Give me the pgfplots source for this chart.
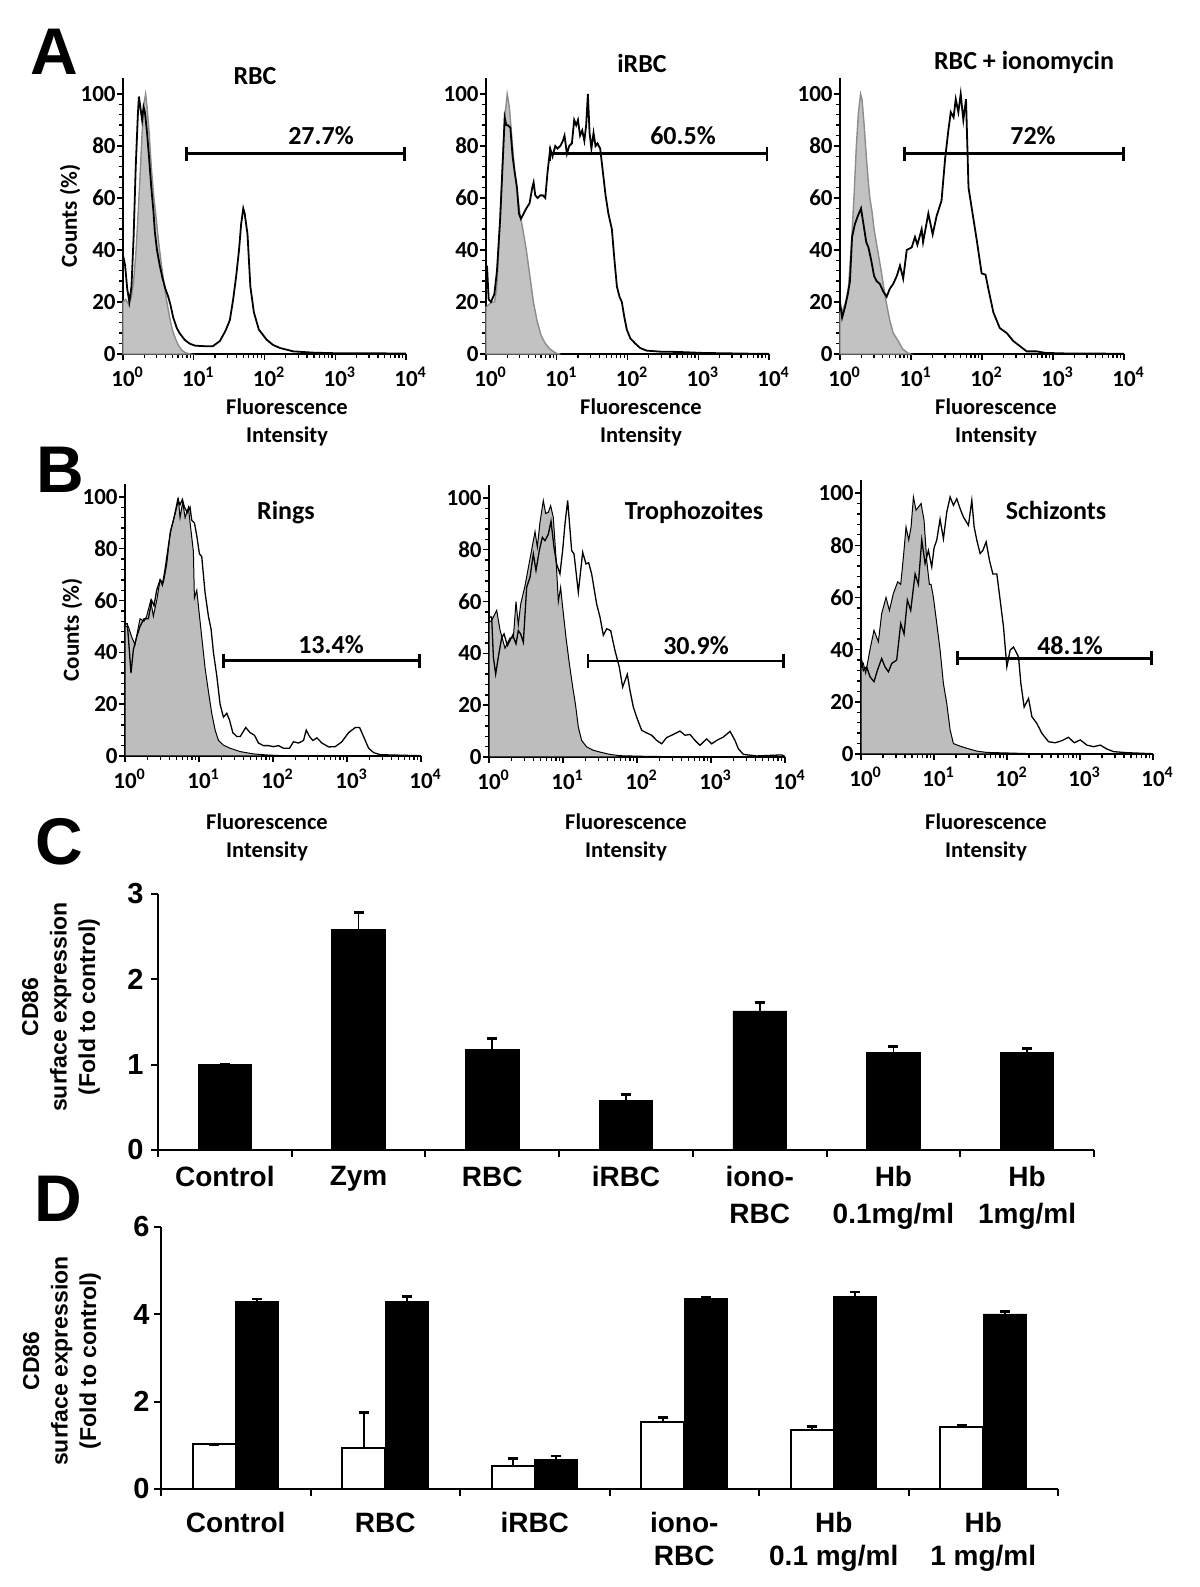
\documentclass[border=0pt]{standalone}
\usepackage{fontspec}
\setmainfont{Carlito}
\newfontfamily\arialfont{Liberation Sans}
\usepackage{pgfplots}
\pgfplotsset{compat=1.18}
\usetikzlibrary{arrows.meta}

% histograms: x is log10 of the fluorescence intensity (decades), y is counts in % of max
\pgfplotsset{
  histo/.style={
    anchor=south west, scale only axis, clip=false,
    xmin=0, xmax=4, ymin=0,
    axis lines=left, axis line style={-, line width=1pt},
    xtick={0,1,2,3,4},
    xticklabels={10\rlap{\textsuperscript{0}},10\rlap{\textsuperscript{1}},10\rlap{\textsuperscript{2}},10\rlap{\textsuperscript{3}},10\rlap{\textsuperscript{4}}},
    minor xtick={0.301,0.477,0.602,0.699,0.778,0.845,0.903,0.954,
      1.301,1.477,1.602,1.699,1.778,1.845,1.903,1.954,
      2.301,2.477,2.602,2.699,2.778,2.845,2.903,2.954,
      3.301,3.477,3.602,3.699,3.778,3.845,3.903,3.954},
    ytick={0,20,40,60,80,100}, yticklabels={0,20,40,60,80,100},
    minor y tick num=4,
    tick align=outside, major tick length=3pt, minor tick length=1.8pt,
    tick style={black, line width=0.7pt},
    xticklabel style={font=\fontsize{11.5}{12}\selectfont\bfseries},
    yticklabel style={font=\fontsize{11.5}{12}\selectfont\bfseries, inner xsep=0.5pt},
  },
  ctrlA/.style={fill=black!24, draw=black!45, line width=0.7pt},
  ctrlB/.style={fill=black!26, draw=black, line width=0.5pt},
  sampA/.style={black, line width=0.9pt},
  sampB/.style={black, line width=0.65pt},
  gate/.style={black, line width=1.3pt, arrows={Bar[width=7pt]-Bar[width=7pt]}},
  bars/.style={
    anchor=south west, scale only axis,
    axis lines=left, axis line style={-, line width=1pt},
    major tick length=0pt, minor tick length=3.5pt, tick align=outside,
    minor tick style={black, line width=1pt},
    ybar,
  },
  errs/.style={error bars/.cd, y dir=plus, y explicit, error mark=|,
    error bar style={line width=0.8pt},
    error mark options={line width=1.3pt, mark size=2.5pt}},
}

\begin{document}
\begin{tikzpicture}
\path[use as bounding box] (0,0) rectangle (600pt,793.5pt);

% ---------- A ----------
\begin{axis}[histo, at={(61.5pt,616.5pt)}, width=141.5pt, height=137.8pt, ymax=106]
\addplot[ctrlA] coordinates {(0,20) (0.04,21) (0.08,19) (0.12,22) (0.15,28) (0.18,38) (0.21,52) (0.24,68) (0.27,85) (0.30,97) (0.32,100) (0.34,95) (0.37,85) (0.40,72) (0.43,62) (0.45,57) (0.47,52) (0.50,44) (0.54,35) (0.58,27) (0.62,20) (0.66,14) (0.70,9) (0.74,6) (0.78,3.5) (0.83,1.5) (0.88,0.5) (0.95,0)} \closedcycle;
\addplot[sampA] coordinates {(0,38) (0.03,34) (0.06,25) (0.09,20) (0.12,26) (0.15,45) (0.18,72) (0.21,92) (0.225,99) (0.245,95) (0.27,90) (0.29,95) (0.31,93) (0.34,85) (0.37,75) (0.40,64) (0.43,55) (0.45,47) (0.48,40) (0.52,34) (0.56,29) (0.60,25) (0.64,22) (0.67,19) (0.71,14) (0.76,10) (0.80,8) (0.87,5.5) (0.94,4) (1.02,3.2) (1.15,3) (1.27,3) (1.37,5) (1.45,9) (1.51,13) (1.557,21) (1.60,30) (1.64,40) (1.67,50) (1.70,56) (1.72,54) (1.76,46) (1.80,26) (1.85,16) (1.92,9.4) (2.03,5.5) (2.12,3.5) (2.22,2.3) (2.41,1) (2.7,0.5) (3,0.3) (4,0.2)};
\addplot[gate] coordinates {(0.88,77) (4,77)};
\end{axis}

\begin{axis}[histo, at={(243pt,616.5pt)}, width=141.5pt, height=137.8pt, ymax=106]
\addplot[ctrlA] coordinates {(0,18) (0.04,19) (0.08,20) (0.12,20) (0.15,25) (0.18,40) (0.21,58) (0.24,78) (0.27,92) (0.30,100) (0.33,95) (0.36,85) (0.40,72) (0.44,62) (0.48,54) (0.52,48) (0.57,40) (0.62,30) (0.67,20) (0.72,13) (0.78,7) (0.84,4) (0.90,2) (0.96,0.8) (1.0,0.2) (1.05,0)} \closedcycle;
\addplot[sampA] coordinates {(0,30) (0.014,34) (0.038,21) (0.07,20) (0.118,23) (0.155,32) (0.20,52) (0.24,76) (0.264,91) (0.287,88) (0.31,88) (0.344,87) (0.376,76) (0.405,70) (0.438,64) (0.466,54) (0.494,52) (0.532,54) (0.57,56) (0.616,58) (0.654,64) (0.673,66) (0.696,61) (0.73,60) (0.767,61) (0.805,61) (0.838,60) (0.87,70) (0.908,79) (0.94,76) (0.979,80) (1.01,79) (1.05,80) (1.087,82) (1.11,84) (1.144,77) (1.176,80) (1.214,81) (1.247,90) (1.275,88) (1.30,90) (1.33,84) (1.36,86) (1.39,82) (1.416,88) (1.44,100) (1.464,85) (1.49,79) (1.52,85) (1.548,80) (1.576,81) (1.614,79) (1.652,70) (1.69,61) (1.73,54) (1.779,48) (1.816,36) (1.85,26) (1.887,22) (1.92,20) (1.953,14.5) (1.99,9.4) (2.04,6) (2.11,4) (2.18,2.3) (2.27,1.3) (2.46,0.9) (2.70,0.8) (3.07,0.4) (3.78,0.1) (4,0.1)};
\addplot[gate] coordinates {(0.885,77) (3.99,77)};
\end{axis}

\begin{axis}[histo, at={(420pt,616.5pt)}, width=142pt, height=137.8pt, ymax=106]
\addplot[ctrlA] coordinates {(0,16) (0.04,17) (0.08,20) (0.12,26) (0.16,42) (0.20,62) (0.23,80) (0.26,93) (0.29,100) (0.31,98) (0.34,88) (0.37,76) (0.40,66) (0.42,60) (0.45,55) (0.48,48) (0.53,40) (0.58,32) (0.62,25) (0.65,20) (0.70,13) (0.75,8) (0.82,5) (0.88,2) (0.95,0.5) (0.99,0)} \closedcycle;
\addplot[sampA] coordinates {(0,20) (0.03,14) (0.07,18) (0.11,23) (0.14,28) (0.17,45) (0.21,50) (0.25,53) (0.296,56) (0.33,50) (0.37,43) (0.40,41) (0.44,36) (0.48,30) (0.516,28) (0.56,27) (0.61,24) (0.657,22) (0.70,25) (0.75,27) (0.80,30) (0.845,34) (0.89,29) (0.94,40) (1.01,41) (1.056,45) (1.09,42) (1.15,48) (1.17,43) (1.244,54) (1.305,46) (1.36,53) (1.43,59) (1.48,75) (1.526,86) (1.56,93) (1.60,91) (1.63,98) (1.667,93) (1.70,100) (1.737,90) (1.775,98) (1.81,64) (1.85,57) (1.925,44) (1.995,31) (2.05,30.5) (2.09,25) (2.16,16) (2.25,10) (2.35,8) (2.44,5) (2.535,3) (2.63,1) (2.77,1) (2.9,0.4) (3.2,0.2) (4.0,0.1)};
\addplot[gate] coordinates {(0.89,77) (4.01,77)};
\end{axis}

% ---------- B ----------
\begin{axis}[histo, at={(62.5pt,415.5pt)}, width=148pt, height=136pt, ymax=105]
\addplot[ctrlB] coordinates {(0,50) (0.045,50) (0.09,46) (0.135,43) (0.203,53) (0.257,52) (0.293,54) (0.347,60) (0.383,54) (0.428,60) (0.474,68) (0.519,67) (0.564,74) (0.609,86) (0.663,92) (0.699,96) (0.722,99) (0.744,92) (0.780,98) (0.812,92) (0.857,96) (0.888,88) (0.924,79) (0.938,61) (0.970,64) (0.992,58) (1.037,46) (1.082,34) (1.127,25) (1.172,16.5) (1.218,10) (1.263,6) (1.330,4.2) (1.420,3) (1.556,1.7) (1.736,0.8) (1.916,0.4) (2.14,0.1) (2.5,0)} \closedcycle;
\addplot[sampB] coordinates {(0,51) (0.032,51) (0.081,32) (0.113,41) (0.158,46) (0.203,50) (0.257,53) (0.316,53) (0.361,60) (0.392,58) (0.428,64) (0.474,68) (0.505,66) (0.541,72) (0.586,81) (0.618,87) (0.654,91) (0.685,95) (0.713,99) (0.744,97) (0.776,99) (0.803,96) (0.843,94) (0.879,96) (0.902,91) (0.938,90) (0.970,85) (1.006,78) (1.037,77) (1.082,63) (1.127,54) (1.163,49) (1.195,40) (1.240,31) (1.285,20) (1.330,15) (1.375,16.5) (1.411,14) (1.457,9) (1.511,7.5) (1.556,7.5) (1.632,11) (1.691,9) (1.750,8) (1.804,5) (1.871,4) (1.939,4) (2.007,3.6) (2.074,4) (2.142,3) (2.223,3) (2.277,5.5) (2.345,5) (2.413,6) (2.449,10) (2.494,7.5) (2.539,6) (2.593,7) (2.661,5) (2.751,3.5) (2.841,3.6) (2.931,5.5) (3.021,9) (3.112,11) (3.170,11) (3.224,7.5) (3.292,3) (3.360,1.3) (3.450,0.5) (4.0,0.1)};
\addplot[gate] coordinates {(1.31,36.8) (4,36.8)};
\end{axis}

\begin{axis}[histo, at={(244.5pt,415pt)}, width=148pt, height=136pt, ymax=105]
\addplot[ctrlB] coordinates {(0,52) (0.036,52.7) (0.104,56.6) (0.149,49) (0.216,42) (0.284,46) (0.329,46) (0.365,60) (0.396,51) (0.428,59) (0.486,66) (0.541,74.5) (0.577,80) (0.622,87) (0.653,81) (0.689,90.6) (0.734,99) (0.766,94) (0.802,94.5) (0.833,97) (0.869,92.5) (0.905,77) (0.937,60) (0.968,65.5) (0.995,58) (1.041,46) (1.086,36) (1.131,27) (1.167,20.6) (1.207,11.6) (1.252,6.4) (1.320,3.9) (1.410,2.6) (1.500,1.9) (1.635,1) (1.770,0.5) (2.131,0.25) (2.581,0.1) (2.8,0)} \closedcycle;
\addplot[sampB] coordinates {(0,54) (0.036,54) (0.059,38.6) (0.090,32) (0.126,38.6) (0.171,46) (0.203,47.5) (0.248,43) (0.284,45) (0.320,47) (0.365,43.7) (0.396,48.8) (0.428,47.5) (0.464,44.3) (0.509,65.5) (0.554,69.4) (0.599,78.4) (0.635,72) (0.680,79.7) (0.721,84.8) (0.757,83.5) (0.802,86) (0.838,91) (0.878,81) (0.914,74.5) (0.959,70.7) (0.995,79.7) (1.027,90) (1.063,99) (1.117,79.7) (1.149,78.4) (1.207,63.6) (1.266,79) (1.311,74.5) (1.347,75) (1.387,70.7) (1.455,59) (1.5,54) (1.545,47) (1.59,49.5) (1.644,48.8) (1.703,41) (1.761,34.7) (1.806,27) (1.869,31.9) (1.905,25.7) (1.95,19.3) (1.995,15.4) (2.063,10.3) (2.131,9.3) (2.198,8.4) (2.266,6.4) (2.333,5.1) (2.401,7.5) (2.468,8.4) (2.581,10) (2.649,8.4) (2.716,8.7) (2.784,6.4) (2.851,4.5) (2.941,7) (3.009,5.1) (3.077,6.4) (3.167,7.7) (3.257,9.9) (3.324,6.4) (3.369,3.2) (3.437,1) (3.617,0.4) (3.955,0.8) (4.0,0.2)};
\addplot[gate] coordinates {(1.32,37) (4,37)};
\end{axis}

\begin{axis}[histo, at={(430.5pt,416.5pt)}, width=146pt, height=137pt, ymax=105]
\addplot[ctrlB] coordinates {(0,33) (0.032,34.7) (0.064,31) (0.123,40) (0.178,47.4) (0.238,43) (0.283,53.8) (0.343,60) (0.389,55) (0.443,61.5) (0.503,66) (0.544,65) (0.581,75.5) (0.617,87) (0.654,82) (0.686,87) (0.718,98.5) (0.754,93.4) (0.786,94.6) (0.823,96) (0.864,89.5) (0.901,74) (0.937,65) (0.960,65) (0.992,60) (1.038,50) (1.083,40) (1.129,27) (1.175,19.4) (1.221,9.2) (1.266,4) (1.358,3) (1.449,2.2) (1.586,1.1) (1.723,0.6) (2.0,0.4) (2.36,0.1) (2.6,0)} \closedcycle;
\addplot[sampB] coordinates {(0,36) (0.009,36) (0.032,32) (0.078,33.4) (0.123,29.6) (0.178,27.7) (0.224,32) (0.283,36.6) (0.329,33.4) (0.375,31.5) (0.421,34.7) (0.489,36) (0.544,50) (0.590,46) (0.635,59) (0.681,55) (0.741,69) (0.786,65) (0.832,82) (0.878,73) (0.923,78) (0.969,71.7) (1.001,79) (1.038,82) (1.083,90) (1.129,82.5) (1.175,92.7) (1.221,98.5) (1.266,95.3) (1.312,97.8) (1.358,94) (1.403,90.8) (1.472,87.6) (1.518,97.2) (1.550,87) (1.586,82) (1.632,76.8) (1.669,78) (1.714,81.3) (1.760,74.2) (1.806,69) (1.861,69) (1.906,59) (1.952,48.7) (1.998,33.4) (2.043,39.8) (2.089,41) (2.158,37.2) (2.190,27) (2.235,18) (2.295,21.3) (2.341,14.3) (2.409,11.7) (2.478,7.9) (2.569,4.7) (2.661,4.3) (2.752,5.1) (2.843,6.4) (2.921,4.3) (3.003,5.4) (3.095,3.4) (3.186,2.8) (3.278,3.4) (3.369,1.9) (3.461,0.9) (3.643,0.5) (4.0,0.1)};
\addplot[gate] coordinates {(1.30,36.6) (4,36.6)};
\end{axis}

% ---------- C ----------
\begin{axis}[bars, at={(79pt,218.5pt)}, width=468pt, height=128pt,
  xmin=-0.5, xmax=6.5, ymin=0, ymax=3,
  xtick={0,...,6}, xticklabels={Control,Zym,RBC,iRBC,iono-\\RBC,Hb\\0.1mg/ml,Hb\\1mg/ml},
  ytick={0,1,2,3}, yticklabels={0,1,2,3},
  minor xtick={-0.5,0.5,...,6.5}, minor ytick={0,1,2,3},
  xticklabel style={font=\arialfont\bfseries\fontsize{14}{18.5}\selectfont, align=center, yshift=-4.8pt},
  yticklabel style={font=\arialfont\bfseries\fontsize{14.5}{16}\selectfont, xshift=-3.7pt},
  bar width=0.40]
\addplot[fill=black, draw=black, bar shift=0, errs] coordinates {
  (0,1.00) +- (0,0) (1,2.58) +- (0,0.20) (2,1.18) +- (0,0.13) (3,0.58) +- (0,0.07)
  (4,1.63) +- (0,0.10) (5,1.14) +- (0,0.07) (6,1.14) +- (0,0.05)};
\end{axis}

% ---------- D ----------
\begin{axis}[bars, at={(80.5pt,49pt)}, width=448.5pt, height=131pt,
  xmin=-0.5, xmax=5.5, ymin=0, ymax=6,
  xtick={0,...,5}, xticklabels={Control,RBC,iRBC,iono-\\RBC,Hb\\0.1 mg/ml,Hb\\1 mg/ml},
  ytick={0,2,4,6}, yticklabels={0,2,4,6},
  minor xtick={-0.5,0.5,...,5.5}, minor ytick={0,2,4,6},
  xticklabel style={font=\arialfont\bfseries\fontsize{14}{16.5}\selectfont, align=center, yshift=-8.3pt},
  yticklabel style={font=\arialfont\bfseries\fontsize{14.5}{16}\selectfont, xshift=-2.2pt},
  bar width=0.288]
\addplot[fill=white, draw=black, line width=1pt, bar shift=-0.144, errs] coordinates {
  (0,1.02) +- (0,0) (1,0.95) +- (0,0.80) (2,0.52) +- (0,0.18)
  (3,1.54) +- (0,0.10) (4,1.35) +- (0,0.08) (5,1.43) +- (0,0.03)};
\addplot[fill=black, draw=black, bar shift=0.144, errs] coordinates {
  (0,4.29) +- (0,0.06) (1,4.29) +- (0,0.12) (2,0.68) +- (0,0.08)
  (3,4.37) +- (0,0.02) (4,4.40) +- (0,0.11) (5,4.01) +- (0,0.06)};
\end{axis}

% ---------- texts (coordinates in reference pixels, y from the bottom) ----------
\begin{scope}[x=0.5pt, y=0.5pt, every node/.style={inner sep=0pt}]
\node[font=\arialfont\bfseries\fontsize{33}{36}\selectfont, anchor=base] at (54,1512) {A};
\node[font=\arialfont\bfseries\fontsize{33}{36}\selectfont, anchor=base] at (60,1094) {B};
\node[font=\arialfont\bfseries\fontsize{33}{36}\selectfont, anchor=base] at (59,722) {C};
\node[font=\arialfont\bfseries\fontsize{33}{36}\selectfont, anchor=base] at (58,365) {D};

\begin{scope}[every node/.append style={font=\bfseries\fontsize{13}{15}\selectfont, anchor=base}]
\node at (255,1502) {RBC};
\node at (642,1514) {iRBC};
\node at (1024,1517) {RBC + ionomycin};
\node at (286,1067) {Rings};
\node at (694,1067) {Trophozoites};
\node at (1056,1067) {Schizonts};
\node at (321,1442) {27.7\%};
\node at (683,1442) {60.5\%};
\node at (1033,1442) {72\%};
\node at (331,933) {13.4\%};
\node at (696,932) {30.9\%};
\node at (1070,932) {48.1\%};
\end{scope}

\begin{scope}[every node/.append style={font=\bfseries\fontsize{11.25}{13}\selectfont, anchor=base}]
\node at (287,1172) {Fluorescence}; \node at (287,1144) {Intensity};
\node at (641,1172) {Fluorescence}; \node at (641,1144) {Intensity};
\node at (996,1172) {Fluorescence}; \node at (996,1144) {Intensity};
\node at (267,757) {Fluorescence}; \node at (267,729) {Intensity};
\node at (626,757) {Fluorescence}; \node at (626,729) {Intensity};
\node at (986,757) {Fluorescence}; \node at (986,729) {Intensity};
\end{scope}

\node[rotate=90, font=\bfseries\fontsize{11.5}{13}\selectfont] at (70,1371) {Counts (\%)};
\node[rotate=90, font=\bfseries\fontsize{11.5}{13}\selectfont] at (72,957) {Counts (\%)};

\node[rotate=90, align=center, font=\arialfont\bfseries\fontsize{11.5}{14.25}\selectfont] at (61,580) {CD86\\surface expression\\(Fold to control)};
\node[rotate=90, align=center, font=\arialfont\bfseries\fontsize{11.5}{14.25}\selectfont] at (62,226) {CD86\\surface expression\\(Fold to control)};
\end{scope}
\end{tikzpicture}
\end{document}
